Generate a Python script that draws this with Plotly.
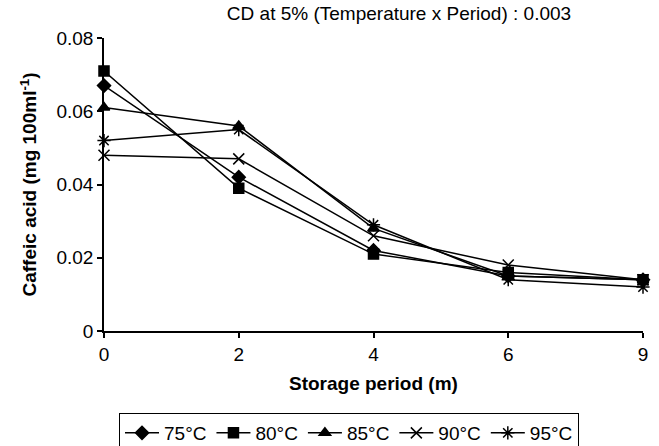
import plotly.graph_objects as go

periods = ["0", "2", "4", "6", "9"]
series_names = ["75°C", "80°C", "85°C", "90°C", "95°C"]
v75 = [0.067, 0.042, 0.022, 0.015, 0.014]
v80 = [0.071, 0.039, 0.021, 0.016, 0.014]
v85 = [0.061, 0.056, 0.028, 0.015, 0.014]
v90 = [0.048, 0.047, 0.026, 0.018, 0.014]
v95 = [0.052, 0.055, 0.029, 0.014, 0.012]
y_ticks = [0, 0.02, 0.04, 0.06, 0.08]
y_tick_labels = ["0", "0.02", "0.04", "0.06", "0.08"]

symbols = ["diamond", "square", "triangle-up", "x-thin-open", "asterisk-open"]
sizes = [10, 10, 10, 11, 11]
values = [v75, v80, v85, v90, v95]

FONT = "Arial, Liberation Sans, Helvetica, sans-serif"
FS = 19
xpos = list(range(len(periods)))

L, R, T, B = 104, 16, 38, 115
W, H = 659, 446
PW, PH = W - L - R, H - T - B

fig = go.Figure()
for name, vals, sym, sz in zip(series_names, values, symbols, sizes):
    fig.add_trace(go.Scatter(
        x=xpos, y=vals, name=name, mode="lines+markers",
        line=dict(color="black", width=1.5),
        marker=dict(symbol=sym, size=sz, color="black",
                    line=dict(color="black", width=1.5)),
        cliponaxis=False,
    ))

fig.update_layout(
    width=W, height=H,
    margin=dict(l=L, r=R, t=T, b=B, autoexpand=False),
    paper_bgcolor="white", plot_bgcolor="white",
    font=dict(family=FONT, size=FS, color="black"),
    showlegend=True,
    legend=dict(orientation="h", x=(349 - L) / PW, xanchor="center",
                y=(T + PH - 413) / PH, yanchor="top",
                bordercolor="black", borderwidth=1, font=dict(size=FS),
                itemwidth=34, tracegroupgap=0),
    title=dict(text="CD at 5% (Temperature x Period) : 0.003", x=399 / W, xanchor="center",
               y=1 - 13 / H, yanchor="middle", xref="container", yref="container",
               font=dict(size=FS, family=FONT)),
    annotations=[
        dict(text="<b>Storage period (m)</b>", xref="paper", yref="paper",
             x=0.5, y=(T + PH - 383) / PH, xanchor="center", yanchor="middle",
             showarrow=False, font=dict(size=FS)),
        dict(text="<b>Caffeic acid (mg 100ml<sup>-1</sup>)</b>", xref="paper", yref="paper",
             x=(28 - L) / PW, y=0.5, xanchor="center", yanchor="middle", textangle=-90,
             showarrow=False, font=dict(size=FS)),
    ],
)
fig.update_xaxes(
    range=[0, 4], tickmode="array", tickvals=xpos, ticktext=periods,
    showline=True, linecolor="black", linewidth=1.5, ticks="outside", ticklen=5,
    tickwidth=1.5, tickcolor="black", showgrid=False, zeroline=False,
    tickfont=dict(size=FS), automargin=False,
)
fig.update_yaxes(
    range=[0, 0.08], tickmode="array", tickvals=y_ticks, ticktext=y_tick_labels,
    showline=True, linecolor="black", linewidth=1.5, ticks="outside", ticklen=5,
    tickwidth=1.5, tickcolor="black", showgrid=False, zeroline=False,
    tickfont=dict(size=FS), automargin=False,
)

fig.write_html(
    "out.html",
    config={"displayModeBar": False},
    post_script="document.body.style.margin='0';document.body.style.overflow='hidden';",
)
